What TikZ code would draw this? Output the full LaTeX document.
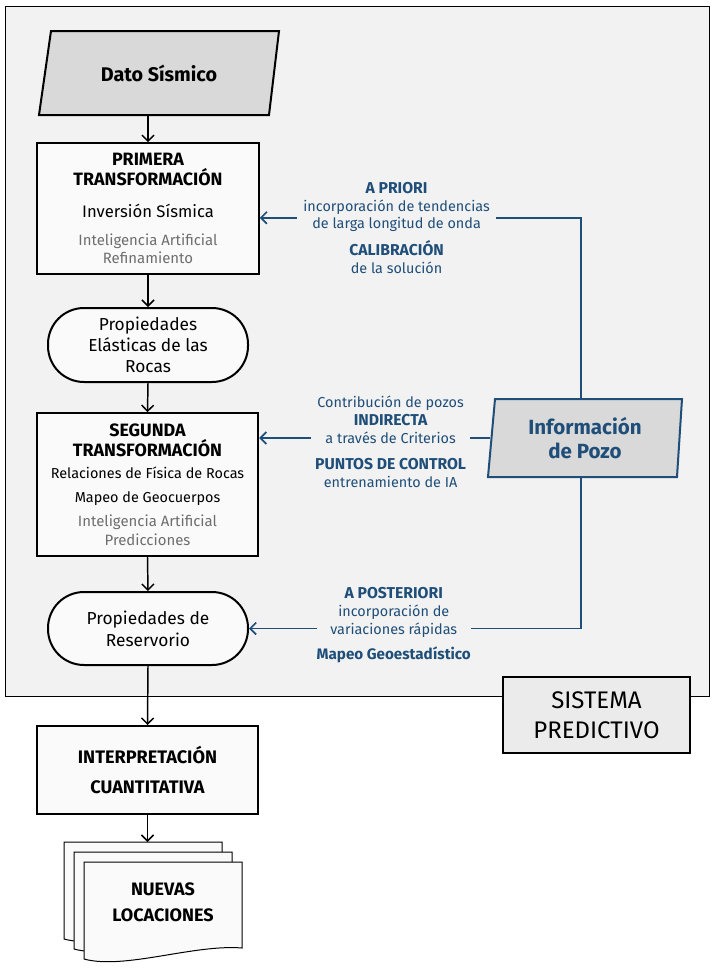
\documentclass[tikz,border=0pt]{standalone}
\usepackage{fontspec}
\setmainfont{Fira Sans}
\usepackage{tikz}
\usetikzlibrary{positioning}
\usetikzlibrary{arrows.meta}
\usetikzlibrary{calc}
\usepackage{xcolor}

\definecolor{pozoblue}{HTML}{1F4E79}
\definecolor{panelgray}{HTML}{F2F2F2}
\definecolor{datagray}{HTML}{D9D9D9}
\definecolor{iagray}{HTML}{6E6E6E}
\definecolor{boxfill}{HTML}{FAFAFA}
\definecolor{sysgray}{HTML}{EBEBEB}

\newcommand\iatext{\color{iagray}\fontsize{11.2}{14}\selectfont}
\newcommand\rocktext{\fontsize{10.8}{14}\selectfont}
\newcommand\hdrtext{\bfseries\fontsize{13.4}{14}\selectfont}
\newcommand\fbbold{\bfseries\fontsize{11.8}{13.3}\selectfont}

\begin{document}
\begin{tikzpicture}[
  x=0.75pt, y=-0.75pt,
  flow/.style={-{Straight Barb[length=4.5pt,width=9pt]}, line width=1.1pt},
  feed/.style={-{Straight Barb[length=4.5pt,width=9pt]}, line width=1.3pt, draw=pozoblue},
  stage/.style={draw, line width=1.5pt, fill=boxfill, align=center, minimum width=166pt},
  props/.style={draw, line width=1.5pt, fill=boxfill, align=center, minimum width=150pt, rounded corners=27pt},
  slantfill/.style={line width=1.5pt, fill=datagray},
  fblabel/.style={fill=panelgray, text=pozoblue, align=center, inner xsep=5pt, inner ysep=0pt, font=\fontsize{10.8}{13.3}\selectfont},
  fbnote/.style={text=pozoblue, align=center, inner sep=0pt, font=\fontsize{10.8}{13.3}\selectfont},
  docpage/.pic={\draw[line width=0.75pt, fill=boxfill] (0,0) -- (158,0) -- (158,86) .. controls (110,82) and (40,108) .. (0,97) -- cycle;}
]

\fill[white] (0,0) rectangle (716,976);
\useasboundingbox (0,0) rectangle (716,976);

% sistema predictivo panel
\draw[line width=0.75pt, fill=panelgray] (5,6) rectangle (709,696);

% dato sismico
\draw[slantfill] (51,31) -- (279,31) -- (269,115) -- (39,115) -- cycle;
\node[minimum height=63pt, font=\bfseries\fontsize{14.8}{16}\selectfont] (dato) at (159,73) {Dato Sísmico};

\node[stage, minimum height=98pt, font=\fontsize{12}{14}\selectfont] (prim) at (148,208.5)
{\hdrtext PRIMERA\\[1pt]\hdrtext TRANSFORMACIÓN\\[10pt]\fontsize{12.5}{14}\selectfont Inversión Sísmica\\[7pt]\iatext Inteligencia Artificial\\[-0.5pt]\iatext Refinamiento};

\node[props, minimum height=55.5pt, font=\fontsize{13}{16}\selectfont] (elas) at (148,345) {Propiedades\\Elásticas de las\\Rocas};

\node[stage, minimum height=107pt, font=\fontsize{12}{14}\selectfont] (seg) at (147.5,484.5)
{\hdrtext SEGUNDA\\[1pt]\hdrtext TRANSFORMACIÓN\\[3pt]\rocktext Relaciones de Física de Rocas\\[4pt]\rocktext Mapeo de Geocuerpos\\[4pt]\iatext Inteligencia Artificial\\\iatext Predicciones};

\node[props, minimum height=54.75pt, font=\fontsize{13}{16.5}\selectfont] (res) at (148,628.5) {Propiedades de\\Reservorio};

% informacion de pozo
\draw[slantfill, draw=pozoblue] (495,399) -- (682,399) -- (677,477) -- (488,477) -- cycle;
\node[text=pozoblue, align=center, minimum width=142.5pt, minimum height=58.5pt, font=\bfseries\fontsize{15.4}{18}\selectfont] (pozo) at (585,438) {Información\\de Pozo};

\node[draw, line width=1.9pt, fill=sysgray, align=center, minimum width=140pt, minimum height=57pt, font=\fontsize{18}{22.5}\selectfont] (sist) at (596.5,715) {SISTEMA\\PREDICTIVO};

\node[stage, minimum height=66pt, font=\bfseries\fontsize{13.6}{22.5}\selectfont] (interp) at (147.5,770) {INTERPRETACIÓN\\CUANTITATIVA};

% nuevas locaciones
\pic at (64,842) {docpage};
\pic at (74,852) {docpage};
\pic at (84,862) {docpage};
\coordinate (pagetop) at (64,842);
\node[align=center, font=\bfseries\fontsize{13.5}{19.5}\selectfont] (locs) at (163,902) {NUEVAS\\LOCACIONES};

\draw[flow] (prim.north |- dato.south) -- (prim.north);
\draw[flow] (prim.south) -- (elas.north);
\draw[flow] (elas.south) -- (seg.north);
\draw[flow] (seg.south) -- (res.north);
\draw[flow] (res.south) -- (interp.north);
\draw[flow] (interp.south) -- (interp.south |- pagetop);

\draw[feed] ([xshift=-3pt]pozo.north) |- node[fblabel, pos=0.787, yshift=8pt] (apriori) {\fbbold A PRIORI\\incorporación de tendencias\\de larga longitud de onda} ([yshift=-7pt]prim.east);
\node[fbnote, below=5.5pt of apriori] (calib) {\fbbold CALIBRACIÓN\\de la solución};

\draw[feed] (pozo.west) -- node[fblabel, pos=0.43, yshift=13.8pt] (indir) {Contribución de pozos\\\fbbold INDIRECTA\\a través de Criterios} (pozo.west -| seg.east);
\node[fbnote, below=10.5pt of indir] (ctrl) {\fbbold PUNTOS DE CONTROL\\entrenamiento de IA};

\draw[feed] ([xshift=-3pt]pozo.south) |- node[fblabel, inner xsep=10pt, pos=0.782, yshift=12pt] (apost) {\fbbold A POSTERIORI\\incorporación de\\variaciones rápidas} (res.east);
\node[fbnote, below=6.5pt of apost] (geoest) {\bfseries\fontsize{11.4}{13.3}\selectfont Mapeo Geoestadístico};

\end{tikzpicture}
\end{document}
